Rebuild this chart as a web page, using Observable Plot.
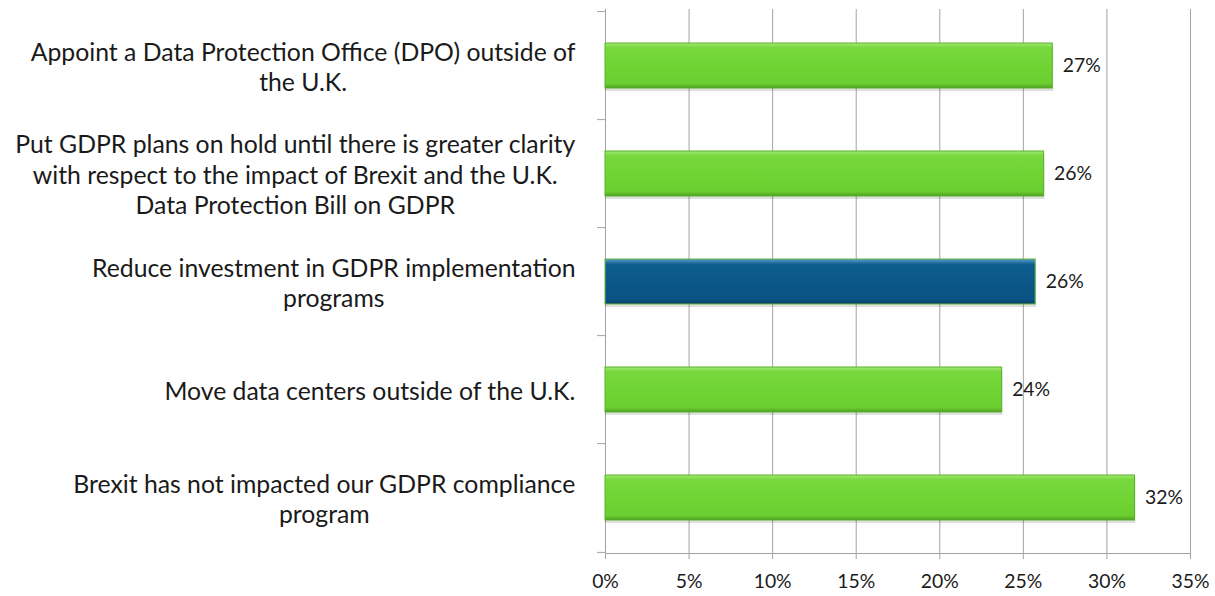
<!DOCTYPE html>
<html>
<head>
<meta charset="utf-8">
<script src="https://cdn.jsdelivr.net/npm/d3@7"></script>
<script src="https://cdn.jsdelivr.net/npm/@observablehq/plot@0.6"></script>
<style>
  html, body { margin: 0; padding: 0; background: #ffffff; }
  #chart { width: 1215px; height: 596px; }
</style>
</head>
<body>
<div id="chart"></div>
<script>
// ---- data ----
const categories = [
  "Appoint a Data Protection Office (DPO) outside of\nthe U.K.",
  "Put GDPR plans on hold until there is greater clarity\nwith respect to the impact of Brexit and the U.K.\nData Protection Bill on GDPR",
  "Reduce investment in GDPR implementation\nprograms",
  "Move data centers outside of the U.K.",
  "Brexit has not impacted our GDPR compliance\nprogram"
];
const values = [0.2676, 0.2624, 0.2574, 0.2373, 0.3168];
const highlighted = [false, false, true, false, false];
const xTicks = [0, 0.05, 0.10, 0.15, 0.20, 0.25, 0.30, 0.35];

const data = categories.map((c, i) => ({cat: c, value: values[i], hi: highlighted[i]}));

// ---- layout ----
const W = 1215, H = 596;
const mL = 605, mR = 25, mT = 9, mB = 43;
const step = (H - mT - mB) / categories.length;
const fontFamily = "Lato, 'Open Sans', sans-serif";

// measure text to size fonts like the reference
const ctx = document.createElement("canvas").getContext("2d");
function measure(t, size) { ctx.font = `${size}px ${fontFamily}`; return ctx.measureText(t).width; }
const catSize = +(24 * 545 / measure("Appoint a Data Protection Office (DPO) outside of", 24)).toFixed(2);
const numSize = +(20 * 38 / measure("35%", 20)).toFixed(2);

const gap = 30;
const labelMarks = data.map(d => {
  const maxW = d3.max(d.cat.split("\n"), l => measure(l, catSize));
  return Plot.text([d], {
    y: "cat", text: "cat", frameAnchor: "left", textAnchor: "middle",
    dx: -(gap + maxW / 2), lineHeight: 1.22, fontSize: catSize, fill: "#1a1a1a"
  });
});

const svg = Plot.plot({
  width: W, height: H,
  marginLeft: mL, marginRight: mR, marginTop: mT, marginBottom: mB,
  style: { fontFamily, background: "#ffffff", color: "#262626" },
  x: { domain: [0, 0.35], label: null },
  y: { domain: categories, paddingInner: 0.585, paddingOuter: 0.2925, axis: null, label: null },
  marks: [
    Plot.gridX(xTicks, { stroke: "#a3a3a3", strokeOpacity: 1 }),
    Plot.ruleX([0], { stroke: "#a3a3a3" }),
    Plot.frame({ anchor: "bottom", stroke: "#a3a3a3" }),
    // y tick marks at band boundaries
    Plot.ruleY(categories, { y: d => d, x1: 0, x2: 0, insetLeft: -8, dy: -step / 2, stroke: "#a3a3a3" }),
    Plot.ruleY(categories.slice(-1), { y: d => d, x1: 0, x2: 0, insetLeft: -8, dy: step / 2, stroke: "#a3a3a3" }),
    Plot.axisX(xTicks, {
      tickFormat: d3.format(".0%"), tickSize: 6, tickPadding: 15, label: null,
      fontSize: numSize, stroke: "#a3a3a3", fill: "#1a1a1a"
    }),
    // shadow
    Plot.barX(data, { y: "cat", x: "value", dy: 3, fill: "#000", fillOpacity: 0.12, insetRight: -1 }),
    Plot.barX(data, {
      y: "cat", x: "value",
      fill: d => d.hi ? "url(#gBlue)" : "url(#gGreen)",
      stroke: d => d.hi ? "#63b83a" : "#58b22a", strokeWidth: 1
    }),
    Plot.text(data, {
      y: "cat", x: "value", text: d => d3.format(".0%")(d.value),
      textAnchor: "start", dx: 10, fontSize: numSize, fill: "#1a1a1a"
    }),
    ...labelMarks
  ]
});

const defs = `
<defs>
  <linearGradient id="gGreen" x1="0" y1="0" x2="0" y2="1">
    <stop offset="0" stop-color="#a6ea78"/>
    <stop offset="0.1" stop-color="#78d83e"/>
    <stop offset="0.5" stop-color="#70d435"/>
    <stop offset="0.9" stop-color="#6ccf31"/>
    <stop offset="1" stop-color="#4e9e22"/>
  </linearGradient>
  <linearGradient id="gBlue" x1="0" y1="0" x2="0" y2="1">
    <stop offset="0" stop-color="#5a9cc8"/>
    <stop offset="0.12" stop-color="#0e5d8f"/>
    <stop offset="0.5" stop-color="#0b5788"/>
    <stop offset="0.9" stop-color="#0a5283"/>
    <stop offset="1" stop-color="#0a4068"/>
  </linearGradient>
</defs>`;
svg.insertAdjacentHTML("afterbegin", defs);
document.getElementById("chart").appendChild(svg);
</script>
</body>
</html>
